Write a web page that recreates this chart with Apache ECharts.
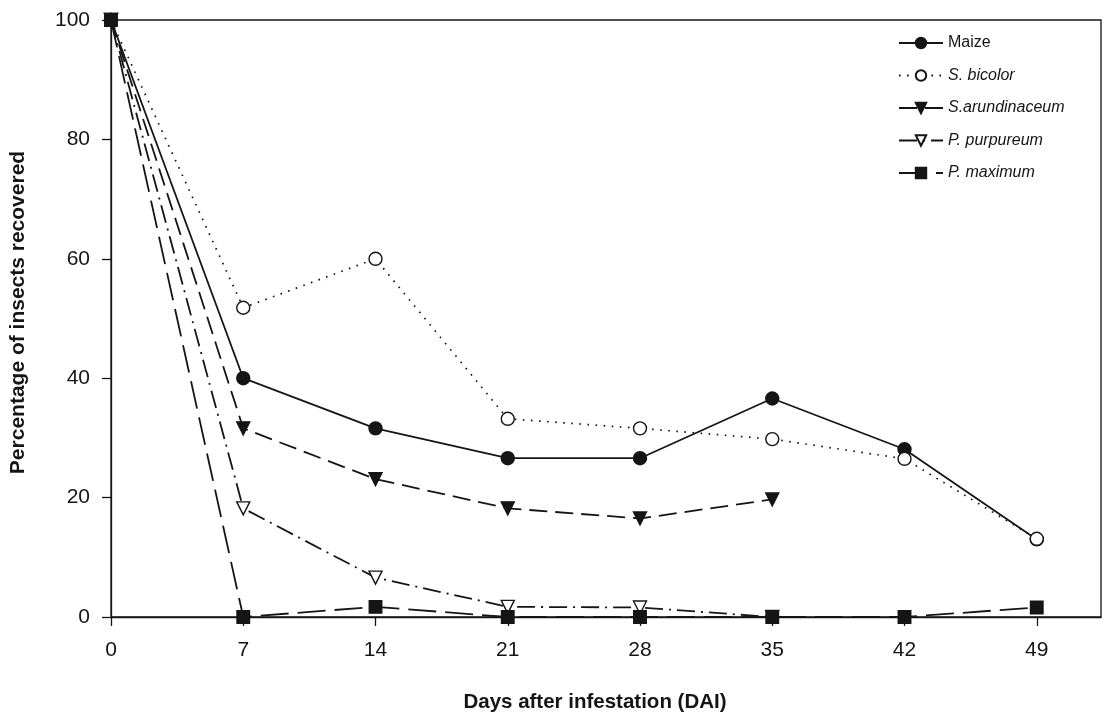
<!DOCTYPE html>
<html>
<head>
<meta charset="utf-8">
<script src="https://cdn.jsdelivr.net/npm/echarts@6/dist/echarts.min.js"></script>
<style>html,body{margin:0;padding:0;background:#fff}#c{width:1110px;height:712px}</style>
</head>
<body>
<div id="c"></div>
<script>
const days = [0, 7, 14, 21, 28, 35, 42, 49];
const xTicks = [0, 7, 14, 21, 28, 35, 42, 49];
const maize = [100, 40, 31.6, 26.6, 26.6, 36.6, 28.1, 13];
const sBicolor = [100, 51.8, 60, 33.2, 31.6, 29.8, 26.5, 13.1];
const sArundinaceum = [100, 31.6, 23.1, 18.2, 16.5, 19.7, null, null];
const pPurpureum = [100, 18.2, 6.6, 1.7, 1.6, 0, null, null];
const pMaximum = [100, 0, 1.7, 0, 0, 0, 0, 1.6];
const seriesNames = ['Maize', 'S. bicolor', 'S.arundinaceum', 'P. purpureum', 'P. maximum'];

const ink = '#151515';
function pairs(vals) {
  const out = [];
  days.forEach((d, i) => { if (vals[i] !== null) out.push([d, vals[i]]); });
  return out;
}
function mk(name, vals, symbol, filled, dash, rotate, width, size) {
  return {
    name: name, type: 'line', data: pairs(vals),
    symbol: symbol, symbolSize: size || 13, symbolRotate: rotate || 0,
    showAllSymbol: true, clip: false,
    lineStyle: { color: ink, width: width || 1.8, type: dash },
    itemStyle: { color: filled ? ink : '#fff', borderColor: ink, borderWidth: 1.4 },
    emphasis: { disabled: true }, animation: false
  };
}
const chart = echarts.init(document.getElementById('c'));
chart.setOption({
  animation: false,
  textStyle: { fontFamily: 'Liberation Sans, Arial, sans-serif', color: ink },
  grid: { left: 111, right: 9, top: 20, bottom: 95, outerBoundsMode: 'none', containLabel: false,
          show: true, borderColor: ink, borderWidth: 1.3, backgroundColor: 'transparent' },
  legend: {
    orient: 'vertical', left: 893, top: 30, itemWidth: 44, itemHeight: 13, itemGap: 16.5,
    textStyle: { fontSize: 16, color: ink, fontFamily: 'Liberation Sans, Arial, sans-serif' },
    data: seriesNames.map((n, i) => ({ name: n, textStyle: { fontStyle: i === 0 ? 'normal' : 'italic' } }))
  },
  xAxis: {
    type: 'value', min: 0, max: 52.4,
    name: 'Days after infestation (DAI)', nameLocation: 'middle', nameGap: 75,
    nameTextStyle: { fontSize: 20.5, fontWeight: 'bold', color: ink, padding: [0, 22, 0, 0] },
    axisLine: { show: true, lineStyle: { color: ink, width: 1.3 } },
    axisTick: { show: true, length: 9, customValues: xTicks, lineStyle: { color: ink, width: 1.3 } },
    axisLabel: { fontSize: 21, color: ink, margin: 23, customValues: xTicks },
    splitLine: { show: false }
  },
  yAxis: {
    type: 'value', min: 0, max: 100, interval: 20,
    name: 'Percentage of insects recovered', nameLocation: 'middle', nameGap: 82,
    nameTextStyle: { fontSize: 21, fontWeight: 'bold', color: ink, padding: [0, 0, 0, 12] },
    axisLine: { show: true, lineStyle: { color: ink, width: 1.3 } },
    axisTick: { show: true, length: 9, lineStyle: { color: ink, width: 1.3 } },
    axisLabel: { fontSize: 21, color: ink, margin: 21 },
    splitLine: { show: false }
  },
  series: [
    mk('Maize', maize, 'circle', true, 'solid'),
    mk('S. bicolor', sBicolor, 'circle', false, [1.6, 6.5], 0, 1.7),
    mk('S.arundinaceum', sArundinaceum, 'triangle', true, [18, 8], 180),
    mk('P. purpureum', pPurpureum, 'triangle', false, [18, 6, 2, 6], 180),
    mk('P. maximum', pMaximum, 'rect', true, [28, 9], 0, 1.8, 12.5)
  ]
});
</script>
</body>
</html>
